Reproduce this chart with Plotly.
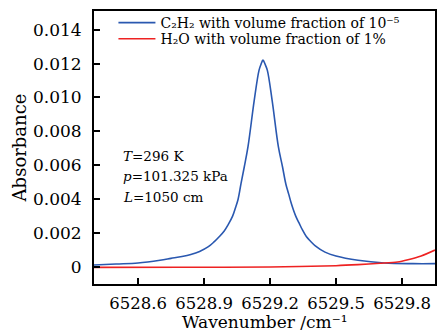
import plotly.graph_objects as go

# Data
c2h2_x = [6528.40, 6528.50, 6528.60, 6528.70, 6528.75, 6528.80, 6528.84, 6528.88,
          6528.92, 6528.947, 6528.970, 6528.992, 6529.010, 6529.030, 6529.042, 6529.055,
          6529.068, 6529.083, 6529.100, 6529.128, 6529.150, 6529.159, 6529.168, 6529.178,
          6529.188, 6529.210, 6529.238, 6529.257, 6529.272, 6529.285, 6529.298, 6529.317,
          6529.332, 6529.347, 6529.365, 6529.382, 6529.406, 6529.45,
          6529.50, 6529.60, 6529.72, 6529.85, 6529.95]
c2h2_y = [0.00012, 0.00018, 0.00024, 0.00040, 0.00051, 0.00062, 0.00074, 0.00092,
          0.00120, 0.00150, 0.00180, 0.00213, 0.00250, 0.00300, 0.00345, 0.0040,
          0.0049, 0.0059, 0.0071, 0.0098, 0.0116, 0.01195, 0.0122, 0.01195,
          0.0116, 0.0098, 0.0071, 0.0059, 0.0049, 0.0043, 0.0037, 0.0030,
          0.0026, 0.0022, 0.0018, 0.00155, 0.00125, 0.00088,
          0.00065, 0.00040, 0.00024, 0.00020, 0.00020]

h2o_x = [6528.40, 6528.80, 6529.20, 6529.50, 6529.60, 6529.70, 6529.78, 6529.827,
         6529.887, 6529.95]
h2o_y = [-0.00002, -0.00001, 0.0, 0.00008, 0.00014, 0.00022, 0.00030, 0.00043,
         0.00065, 0.00100]

x_ticks = [6528.6, 6528.9, 6529.2, 6529.5, 6529.8]
x_tick_labels = ["6528.6", "6528.9", "6529.2", "6529.5", "6529.8"]
y_ticks = [0, 0.002, 0.004, 0.006, 0.008, 0.010, 0.012, 0.014]
y_tick_labels = ["0", "0.002", "0.004", "0.006", "0.008", "0.010", "0.012", "0.014"]

FONT = "DejaVu Serif"

fig = go.Figure()
fig.add_trace(go.Scatter(
    x=c2h2_x, y=c2h2_y, mode="lines",
    line=dict(color="#2a58b0", width=1.6, shape="spline", smoothing=1.0),
    name="C₂H₂ with volume fraction of 10⁻⁵", legend="legend"))
fig.add_trace(go.Scatter(
    x=h2o_x, y=h2o_y, mode="lines",
    line=dict(color="#ee2222", width=1.6, shape="spline", smoothing=0.8),
    name="H₂O with volume fraction of 1%", legend="legend2"))

leg_common = dict(xanchor="left", yanchor="middle", bgcolor="rgba(0,0,0,0)",
                  font=dict(size=14, family=FONT), itemwidth=37)

fig.update_layout(
    width=438, height=333,
    margin=dict(l=94, r=1, t=11, b=49),
    paper_bgcolor="white", plot_bgcolor="white",
    font=dict(family=FONT, color="black"),
    showlegend=True,
    legend=dict(x=0.057, y=0.956, **leg_common),
    legend2=dict(x=0.057, y=0.897, **leg_common),
    annotations=[
        dict(x=0.08, y=0.47, xref="paper", yref="paper", xanchor="left", yanchor="middle",
             text="<i>T</i>=296 K", showarrow=False, font=dict(size=13.5, family=FONT)),
        dict(x=0.08, y=0.395, xref="paper", yref="paper", xanchor="left", yanchor="middle",
             text="<i>p</i>=101.325 kPa", showarrow=False, font=dict(size=13.5, family=FONT)),
        dict(x=0.08, y=0.32, xref="paper", yref="paper", xanchor="left", yanchor="middle",
             text="<i>L</i>=1050 cm", showarrow=False, font=dict(size=13.5, family=FONT)),
        dict(x=0.5, y=-0.1392, xref="paper", yref="paper", xanchor="center", yanchor="middle",
             text="Wavenumber /cm⁻¹", showarrow=False, font=dict(size=17, family=FONT)),
    ],
)

fig.update_xaxes(
    range=[6528.4, 6529.95], tickvals=x_ticks, ticktext=x_tick_labels,
    ticks="inside", ticklen=6, tickwidth=1.5, tickcolor="black",
    showline=True, linecolor="black", linewidth=2, mirror=True,
    showgrid=False, zeroline=False,
    tickfont=dict(size=16.5, family=FONT), ticklabelstandoff=3,
)
fig.update_yaxes(
    range=[-0.001, 0.0151], tickvals=y_ticks, ticktext=y_tick_labels,
    ticks="inside", ticklen=6, tickwidth=1.5, tickcolor="black",
    showline=True, linecolor="black", linewidth=2, mirror=True,
    showgrid=False, zeroline=False,
    tickfont=dict(size=17, family=FONT), ticklabelstandoff=7,
    title=dict(text="Absorbance", font=dict(size=18, family=FONT), standoff=2),
)

fig.write_html("out.html")
